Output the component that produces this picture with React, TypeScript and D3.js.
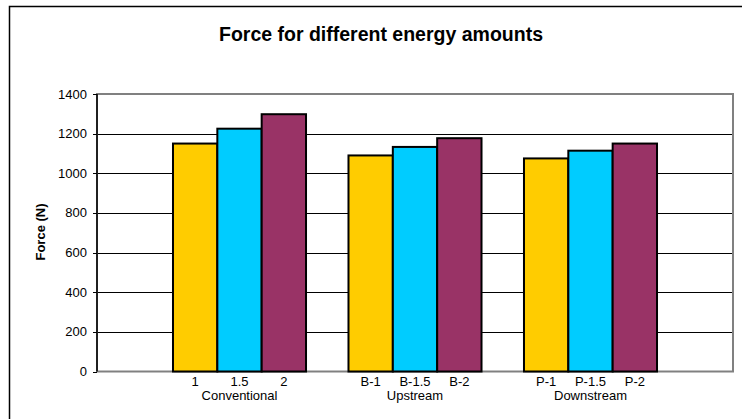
import React from "react";
import * as d3 from "d3";

const groups = ["Conventional", "Upstream", "Downstream"];
const seriesKeys = ["s1", "s15", "s2"];
const subLabels = [
  ["1", "1.5", "2"],
  ["B-1", "B-1.5", "B-2"],
  ["P-1", "P-1.5", "P-2"],
];
const valuesLow = [1150, 1090, 1075];
const valuesMid = [1225, 1133, 1114];
const valuesHigh = [1298, 1177, 1150];
const seriesColors = ["#FFCC00", "#00CCFF", "#993366"];
const yTicks = [0, 200, 400, 600, 800, 1000, 1200, 1400];
const title = "Force for different energy amounts";
const yLabel = "Force (N)";

export default function App() {
  const W = 742;
  const H = 419;
  const left = 97;
  const right = 733;
  const top = 94;
  const bottom = 371.5;
  const font = "'Liberation Sans', Arial, sans-serif";

  const series = [valuesLow, valuesMid, valuesHigh];

  const x0 = d3
    .scaleBand<string>()
    .domain(groups)
    .range([left, right])
    .paddingInner(0.242)
    .paddingOuter(0.433);
  const x1 = d3
    .scaleBand<string>()
    .domain(seriesKeys)
    .range([0, x0.bandwidth()])
    .padding(0);
  const y = d3.scaleLinear().domain([0, 1400]).range([bottom, top]);

  return (
    <svg
      width={W}
      height={H}
      style={{ position: "absolute", left: 0, top: 0, background: "#fff" }}
    >
      <rect x={0} y={0} width={W} height={H} fill="#fff" />
      <rect
        x={9.5}
        y={6.5}
        width={800}
        height={500}
        fill="none"
        stroke="#000"
        strokeWidth={1.5}
      />
      <text
        x={381}
        y={41}
        textAnchor="middle"
        fontFamily={font}
        fontWeight="bold"
        fontSize={19.5}
        fill="#000"
      >
        {title}
      </text>
      {/* gridlines */}
      {yTicks
        .filter((t) => t !== 0 && t !== 1400)
        .map((t) => (
          <line
            key={"g" + t}
            x1={left}
            x2={right}
            y1={Math.round(y(t)) + 0.5}
            y2={Math.round(y(t)) + 0.5}
            stroke="#000"
            strokeWidth={1}
          />
        ))}
      {/* plot border */}
      <rect
        x={left}
        y={top}
        width={right - left}
        height={bottom - top}
        fill="none"
        stroke="#808080"
        strokeWidth={2}
      />
      {/* bars */}
      {groups.map((g, gi) => (
        <g key={g} transform={`translate(${x0(g)},0)`}>
          {seriesKeys.map((k, si) => (
            <rect
              key={k}
              x={x1(k)}
              y={y(series[si][gi])}
              width={x1.bandwidth()}
              height={y(0) - y(series[si][gi])}
              fill={seriesColors[si]}
              stroke="#000"
              strokeWidth={2}
            />
          ))}
        </g>
      ))}
      {/* y axis */}
      <line x1={left} x2={left} y1={top} y2={bottom} stroke="#000" strokeWidth={1.5} />
      {yTicks.map((t) => (
        <g key={"t" + t}>
          <line
            x1={left - 4}
            x2={left}
            y1={Math.round(y(t)) + 0.5}
            y2={Math.round(y(t)) + 0.5}
            stroke="#000"
            strokeWidth={1}
          />
          <text
            x={87}
            y={y(t)}
            dy="0.35em"
            textAnchor="end"
            fontFamily={font}
            fontSize={13}
            fill="#000"
          >
            {t}
          </text>
        </g>
      ))}
      <text
        transform={`translate(45,${232}) rotate(-90)`}
        textAnchor="middle"
        fontFamily={font}
        fontWeight="bold"
        fontSize={13}
        fill="#000"
      >
        {yLabel}
      </text>
      {/* x labels */}
      {groups.map((g, gi) => (
        <g key={"xl" + g}>
          {seriesKeys.map((k, si) => (
            <text
              key={k}
              x={(x0(g) as number) + (x1(k) as number) + x1.bandwidth() / 2}
              y={385.5}
              textAnchor="middle"
              fontFamily={font}
              fontSize={13}
              fill="#000"
            >
              {subLabels[gi][si]}
            </text>
          ))}
          <text
            x={(x0(g) as number) + x0.bandwidth() / 2}
            y={400}
            textAnchor="middle"
            fontFamily={font}
            fontSize={13}
            fill="#000"
          >
            {g}
          </text>
        </g>
      ))}
    </svg>
  );
}
